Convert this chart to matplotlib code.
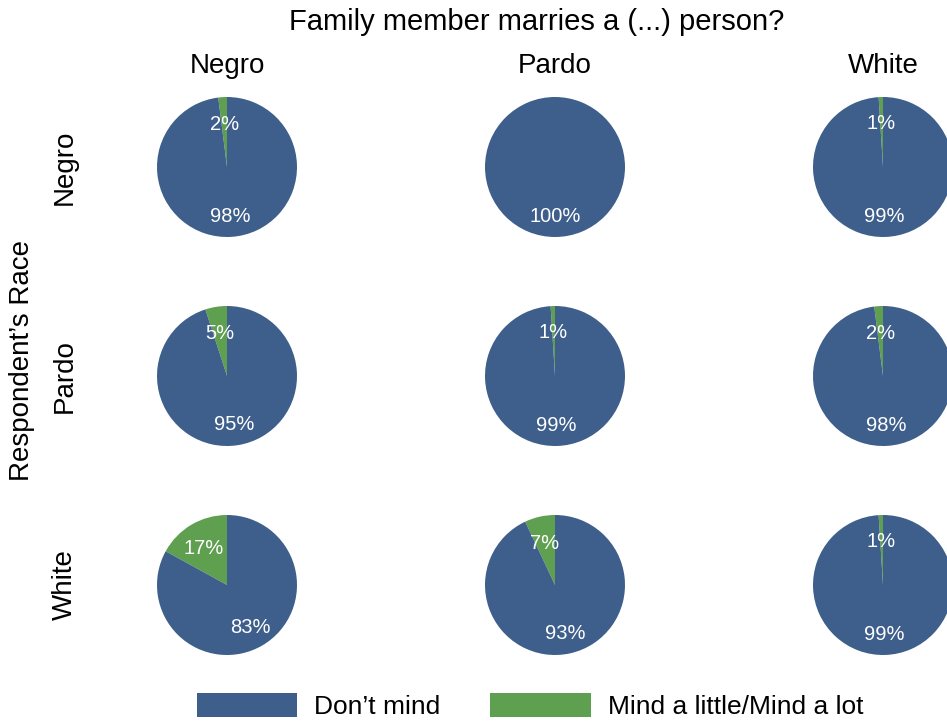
import numpy as np
import matplotlib
matplotlib.use('Agg')
from matplotlib import pyplot as plt
from matplotlib.patches import Patch

plt.rcParams['font.family'] = ['Liberation Sans', 'DejaVu Sans']

# Respondent's race (rows) x race of the partner (columns)
row_names = ['Negro', 'Pardo', 'White']
col_names = ['Negro', 'Pardo', 'White']
dont_mind = [[98, 100, 99],
             [95, 99, 98],
             [83, 93, 99]]
mind = [[2, 0, 1],
        [5, 1, 2],
        [17, 7, 1]]
legend_labels = ['Don\u2019t mind', 'Mind a little/Mind a lot']

blue = '#3e5f8b'
green = '#5f9f50'

W, H = 947, 724
fig = plt.figure(figsize=(W / 100, H / 100), dpi=100)

col_x = [227, 555, 883]
row_y = [167, 376, 585]
r = 70

for i, rname in enumerate(row_names):
    for j, cname in enumerate(col_names):
        cx, cy = col_x[j], row_y[i]
        ax = fig.add_axes([(cx - r) / W, 1 - (cy + r) / H, 2 * r / W, 2 * r / H])
        vals = [mind[i][j], dont_mind[i][j]]
        ax.pie(vals, colors=[green, blue], startangle=90, counterclock=True,
               radius=1, wedgeprops=dict(linewidth=0))
        ax.set_xlim(-1, 1)
        ax.set_ylim(-1, 1)
        ax.set_aspect('equal')
        ax.axis('off')
        # percentage labels at each wedge's mid angle
        total = sum(vals)
        start = 90.0
        for v in vals:
            if v == 0:
                continue
            span = 360.0 * v / total
            mid = np.deg2rad(start + span / 2)
            ax.text(0.66 * np.cos(mid), 0.66 * np.sin(mid) - 0.045, '%d%%' % v,
                    color='white', fontsize=14.5, ha='center', va='center')
            start += span

# strip titles
for j, cname in enumerate(col_names):
    fig.text(col_x[j] / W, 1 - 66 / H, cname, fontsize=20, ha='center', va='center')
for i, rname in enumerate(row_names):
    fig.text(65 / W, 1 - row_y[i] / H, rname, fontsize=20, ha='center', va='center',
             rotation=90)

fig.text(537 / W, 1 - 22 / H, 'Family member marries a (...) person?', fontsize=21,
         ha='center', va='center')
fig.text(22 / W, 1 - 360 / H, 'Respondent\u2019s Race', fontsize=20, ha='center',
         va='center', rotation=90)

handles = [Patch(facecolor=blue, edgecolor='none'), Patch(facecolor=green, edgecolor='none')]
fig.legend(handles, legend_labels, loc='center', bbox_to_anchor=(530 / W, 1 - 706 / H),
           ncol=2, frameon=False, fontsize=19, handlelength=3.8, handleheight=1.05,
           handletextpad=0.65, columnspacing=1.9, borderpad=0, borderaxespad=0)

fig.savefig('out.png', dpi=100)
